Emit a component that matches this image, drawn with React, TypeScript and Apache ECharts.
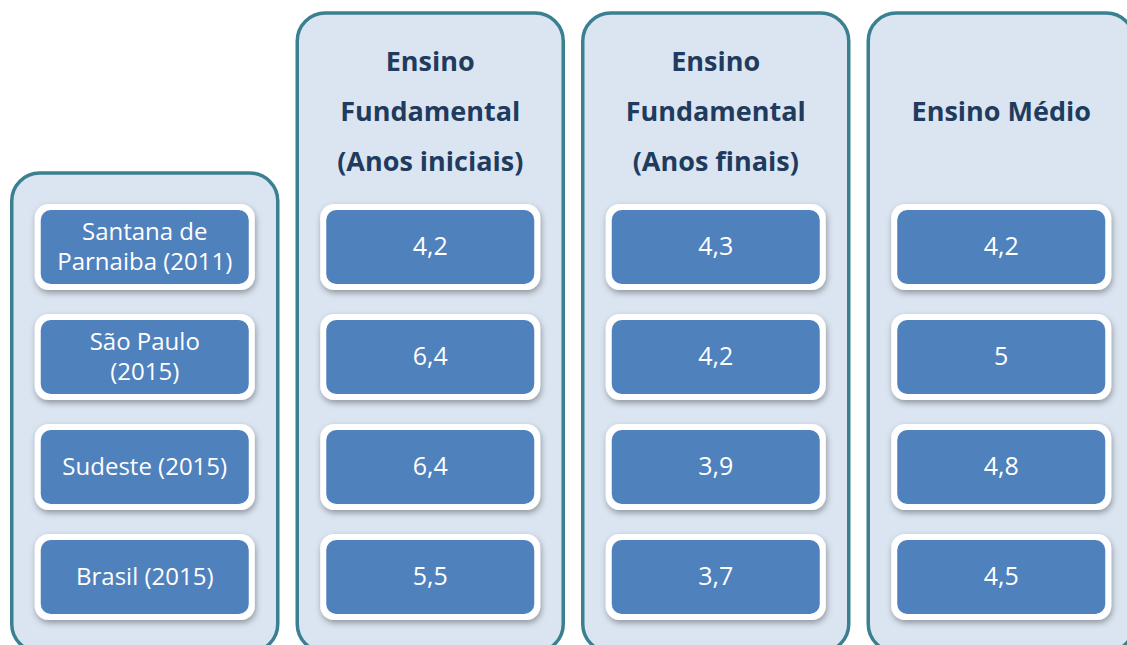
import React, { useEffect, useRef } from "react";
import * as echarts from "echarts";

const columnKeys = ["regiao", "anosIniciais", "anosFinais", "medio"];
const columnTitles = ["", "Ensino\nFundamental\n(Anos iniciais)", "Ensino\nFundamental\n(Anos finais)", "Ensino Médio"];
const regions = ["Santana de\nParnaiba (2011)", "São Paulo\n(2015)", "Sudeste (2015)", "Brasil (2015)"];
const anosIniciais = [4.2, 6.4, 6.4, 5.5];
const anosFinais = [4.3, 4.2, 3.9, 3.7];
const ensinoMedio = [4.2, 5, 4.8, 4.5];

const fmt = (v: number) => String(v).replace(".", ",");

const FONT = "'Open Sans', 'Noto Sans', sans-serif";
const BLUE = "#4f81bd";
const PANEL_FILL = "#dbe5f1";
const PANEL_BORDER = "#3a8090";
const TITLE = "#1f3b5e";

export default function App() {
  const ref = useRef<HTMLDivElement>(null);
  useEffect(() => {
    if (!ref.current) return;
    const chart = echarts.init(ref.current, null, { renderer: "svg" });

    const cellData: any[] = [];
    regions.forEach((r, i) => cellData.push([0, i, r]));
    [anosIniciais, anosFinais, ensinoMedio].forEach((arr, c) =>
      arr.forEach((v, i) => cellData.push([c + 1, i, fmt(v)]))
    );
    const panelData = columnKeys.map((_, c) => [c, 0, columnTitles[c]]);

    chart.setOption({
      animation: false,
      backgroundColor: "#ffffff",
      grid: { left: 2, top: 192, width: 1142, height: 440, outerBoundsMode: "none", containLabel: false },
      xAxis: { type: "category", data: columnKeys, show: false },
      yAxis: { type: "category", data: regions.map((_, i) => String(i)), inverse: true, show: false },
      series: [
        {
          type: "custom",
          z: 1,
          clip: false,
          data: panelData,
          renderItem: (params: any, api: any) => {
            const c = api.value(0);
            const center = api.coord([c, 0]);
            const size = api.size([1, 1]);
            const cx = center[0];
            const rowTop = center[1] - size[1] / 2;
            const w = 266;
            const top = c === 0 ? rowTop - 19 : rowTop - 179;
            const bottom = rowTop + size[1] * 4 + 20;
            const children: any[] = [
              {
                type: "rect",
                shape: { x: cx - w / 2, y: top, width: w, height: bottom - top, r: 28 },
                style: { fill: PANEL_FILL, stroke: PANEL_BORDER, lineWidth: 3.5 },
              },
            ];
            const title = columnTitles[c];
            if (title) {
              children.push({
                type: "text",
                style: {
                  x: cx,
                  y: rowTop - 82,
                  text: title,
                  align: "center",
                  verticalAlign: "middle",
                  fill: TITLE,
                  font: `bold 27px ${FONT}`,
                  lineHeight: 50,
                },
              });
            }
            return { type: "group", children };
          },
        },
        {
          type: "custom",
          z: 2,
          clip: false,
          data: cellData,
          renderItem: (params: any, api: any) => {
            const c = api.value(0);
            const r = api.value(1);
            const label = cellData[params.dataIndex][2];
            const p = api.coord([c, r]);
            const w = 220;
            const h = 86;
            const x = p[0] - w / 2;
            const y = p[1] - h / 2;
            const inset = 6;
            return {
              type: "group",
              children: [
                {
                  type: "rect",
                  shape: { x, y, width: w, height: h, r: 14 },
                  style: {
                    fill: "#ffffff",
                    shadowBlur: 6,
                    shadowOffsetX: 1,
                    shadowOffsetY: 3,
                    shadowColor: "rgba(0,0,0,0.35)",
                  },
                },
                {
                  type: "rect",
                  shape: { x: x + inset, y: y + inset, width: w - 2 * inset, height: h - 2 * inset, r: 10 },
                  style: { fill: BLUE },
                },
                {
                  type: "text",
                  style: {
                    x: p[0],
                    y: p[1] - 2,
                    text: label,
                    align: "center",
                    verticalAlign: "middle",
                    fill: "#ffffff",
                    font: `${c === 0 ? 24 : 25}px ${FONT}`,
                    lineHeight: 30,
                  },
                },
              ],
            };
          },
        },
      ],
    });
    return () => chart.dispose();
  }, []);
  return (
    <div
      ref={ref}
      style={{ position: "fixed", left: 0, top: 0, width: 1127, height: 645, overflow: "hidden" }}
    />
  );
}
